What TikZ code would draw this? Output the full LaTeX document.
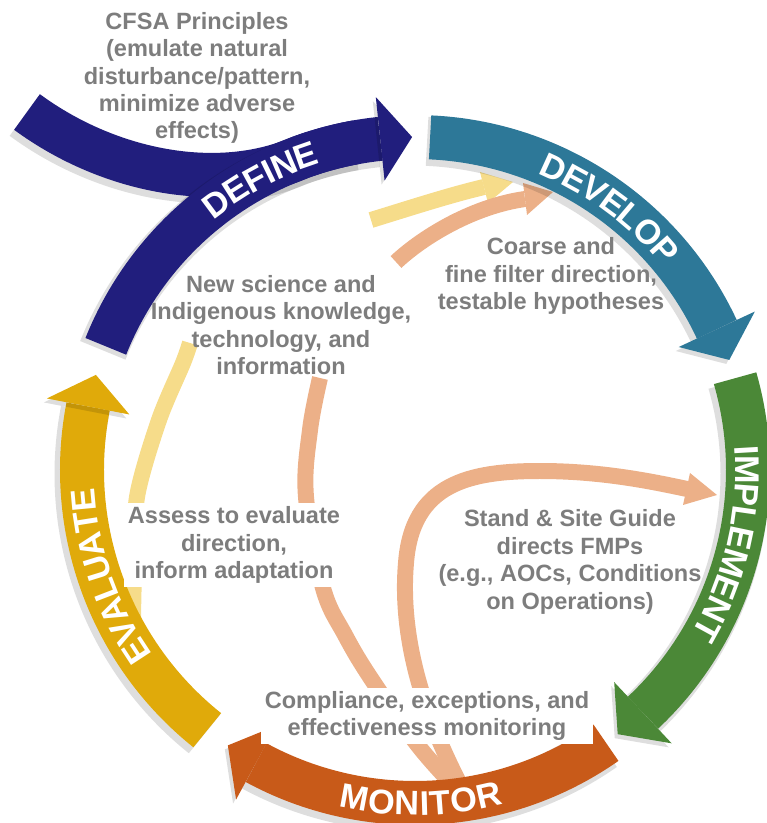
\documentclass[tikz,border=0pt]{standalone}
\usepackage{fontspec}
\setmainfont{Liberation Sans}
\usetikzlibrary{decorations.text}
\definecolor{definec}{RGB}{33,30,125}
\definecolor{developc}{RGB}{45,120,152}
\definecolor{implementc}{RGB}{75,136,55}
\definecolor{monitorc}{RGB}{200,90,25}
\definecolor{evaluatec}{RGB}{224,170,10}
\definecolor{lightyel}{RGB}{246,220,138}
\definecolor{peach}{RGB}{236,176,136}
\definecolor{txtgray}{RGB}{125,125,125}
\newcommand{\bodytxt}{\fontsize{13.4}{15.6}\selectfont\bfseries}
\newcommand{\lblfont}{\fontsize{19.5}{20}\selectfont\bfseries}

\begin{document}
\begin{tikzpicture}[x=0.02cm,y=0.02cm,
  band/.style={line width=0.88cm,preaction={draw=black,draw opacity=0.13,line width=0.98cm,transform canvas={shift={(-3,-4)}}}},
  head/.style={preaction={fill=black,fill opacity=0.13,transform canvas={shift={(-3,-4)}}}},
  lightband/.style={line width=0.32cm},
  lbl/.style={decorate,decoration={text along path,text align=center,text color=white,raise=-7pt}},
  txt/.style={font=\bodytxt,text=txtgray,align=center,inner sep=2pt}]
\useasboundingbox (0,0) rectangle (767,823);
\coordinate (C) at (415,353);

\draw[lightband,lightyel] plot[smooth] coordinates {(133,205) (134,250) (137,326) (159,403) (183,460) (190,480)};
\draw[lightband,lightyel] (371,603) .. controls (410,615) and (450,628) .. (484,636);
\fill[lightyel] (480,651) -- (513,641) -- (488,620) -- cycle;

\draw[lightband,peach] plot[smooth,tension=0.6] coordinates {(470,20) (420,75) (372,143) (345,188) (323,235) (306,326) (310,393) (320,445)};
\draw[lightband,peach] (396,561) .. controls (425,588) and (475,617) .. (525,624);
\fill[peach] (523,640) -- (553,631) -- (527,608) -- cycle;
\draw[lightband,peach] (470,20) .. controls (420,110) and (400,190) .. (406,260) .. controls (412,340) and (470,352) .. (540,352) .. controls (600,352) and (650,342) .. (687,334);
\fill[peach] (690,350) -- (717,328) -- (683,318) -- cycle;

\begin{scope}[shift={(C)}]
\draw[band,definec] (-388,358) .. controls (-305,297) and (-195,277) .. (110:333) arc[start angle=110,end angle=100,radius=333];
\draw[band,definec] (158.2:333) arc[start angle=158.2,end angle=96,radius=333];
\fill[head,definec] (96:375) -- (90.5:333) -- (96:291) -- cycle;

\draw[band,developc] (87.4:333) arc[start angle=87.4,end angle=25,radius=333];
\fill[head,developc] (25:375) -- (19.3:333) -- (25:291) -- cycle;

\draw[band,implementc] (16:333) arc[start angle=16,end angle=-46.8,radius=333];
\fill[head,implementc] (-46.8:375) -- (-52.5:333) -- (-46.8:291) -- cycle;

\draw[band,monitorc] (-55:333) arc[start angle=-55,end angle=-118.5,radius=333];
\fill[head,monitorc] (-118.5:375) -- (-124.2:333) -- (-118.5:291) -- cycle;

\draw[band,evaluatec] (231.4:333) arc[start angle=231.4,end angle=169,radius=333];
\fill[head,evaluatec] (169:375) -- (163.4:333) -- (169:291) -- cycle;

\path[lbl,decoration={text={|\lblfont|DEFINE}}] (148:333) arc[start angle=148,end angle=88,radius=333];
\path[lbl,decoration={text={|\lblfont|DEVELOP}}] (83.4:333) arc[start angle=83.4,end angle=23.4,radius=333];
\path[lbl,decoration={text={|\lblfont|IMPLEMENT}}] (16.8:333) arc[start angle=16.8,end angle=-43.2,radius=333];
\path[lbl,decoration={text={|\lblfont|MONITOR}}] (-119:333) arc[start angle=-119,end angle=-59,radius=333];
\path[lbl,decoration={text={|\lblfont|EVALUATE}}] (229.2:333) arc[start angle=229.2,end angle=169.2,radius=333];
\end{scope}

\node[txt] (cfsa) at (197,745) {CFSA Principles\\(emulate natural\\disturbance/pattern,\\minimize adverse\\effects)};
\node[txt] (newsci) at (281,498) {New science and\\Indigenous knowledge,\\technology, and\\information};
\node[txt] (coarse) at (551,547) {Coarse and\\fine filter direction,\\testable hypotheses};
\node[txt] (stand) at (570,261) {Stand \& Site Guide\\directs FMPs\\(e.g., AOCs, Conditions\\on Operations)};
\node[txt,fill=white] (assess) at (234,278) {Assess to evaluate\\direction,\\inform adaptation};
\node[txt,fill=white] (compl) at (427,107) {Compliance, exceptions, and\\effectiveness monitoring};
\end{tikzpicture}
\end{document}
